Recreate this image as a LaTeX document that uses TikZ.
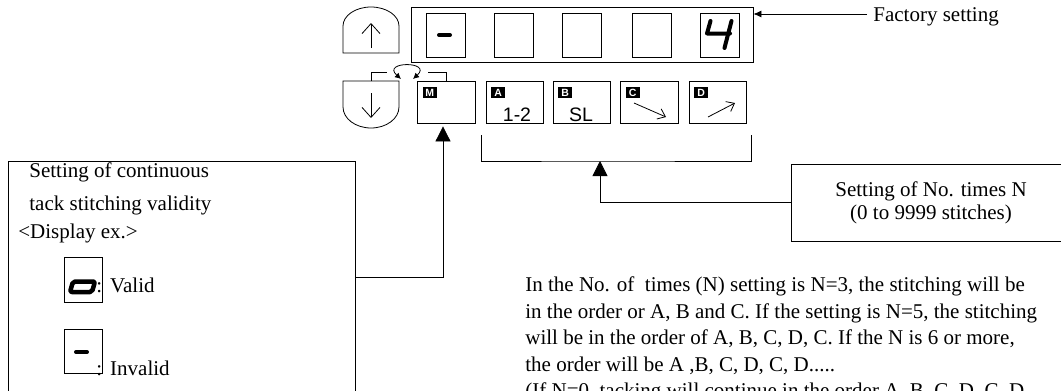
\documentclass[tikz,border=0pt]{standalone}
\usepackage{fontspec}
\setmainfont{Liberation Serif}
\setsansfont{Liberation Sans}
\usetikzlibrary{arrows.meta}

\begin{document}
\begin{tikzpicture}[x=1pt,y=-1pt,font=\fontsize{21}{23}\selectfont]
		\path[use as bounding box] (0,0) rectangle (1061,391);
		\clip (0,0) rectangle (1061,391);
		\tikzstyle{every path}=[line width=0.8pt]
		\tikzstyle{box}=[draw,inner sep=0pt]
		\tikzstyle{digit}=[box,minimum width=39pt,minimum height=44pt]
		\tikzstyle{key}=[box,minimum width=57.5pt,minimum height=42pt]
		\tikzstyle{tag}=[fill=black,text=white,inner sep=0pt,minimum width=14pt,minimum height=11pt,anchor=north west,font=\sffamily\bfseries\fontsize{10.5}{10.5}\selectfont]
		\tikzstyle{seg}=[line width=4pt,line cap=round,line join=round]
		\tikzstyle{bigtip}=[-{Triangle[length=15pt,width=15pt]}]
		\tikzstyle{barb}=[-{Straight Barb[length=10pt,width=18pt]}]
		\tikzstyle{smallbarb}=[-{Straight Barb[length=7pt,width=11pt]}]
		\tikzstyle{txt}=[anchor=base west,inner sep=0pt]

		%% Display
		\draw (582,34.5) node[box,minimum width=342pt,minimum height=55pt] (disp) {};
		\foreach \i/\x in {1/446,2/514,3/582,4/651.5,5/719.5}
			\draw (\x,35) node[digit] (d\i) {};
		\draw[seg] (439,35) -- (450,35);
		\draw[seg] (710.5,21) -- (707,33.5) -- (730,33.5);
		\draw[seg] (731.5,21) -- (724.5,48);
		\draw (873,21) node[txt] (factory) {Factory setting};
		\coordinate (fs) at ([shift={(-6pt,7pt)}]factory.base west);
		\draw[-{Latex[length=8pt,width=7pt]}] (fs) -- (fs -| disp.east);

		%% Up and down keys
		\draw (343,53) -- (343,26) arc[start angle=180,end angle=0,x radius=28pt,y radius=19pt] -- (399,53) -- cycle;
		\draw[barb] (371,48) -- (371,23);
		\draw (343,81) -- (399,81) -- (399,107) arc[start angle=0,end angle=-180,x radius=28pt,y radius=21pt] -- cycle;
		\draw[barb] (371,93) -- (371,118);
		\coordinate (dntop) at (371,81);

		%% Mode keys
		\foreach \k/\x in {M/446.5,A/515,B/582,C/649.5,D/718}{
			\draw (\x,102) node[key] (key\k) {};
			\node[tag] (tag\k) at ([shift={(5pt,-6pt)}]key\k.north west) {\k};
		}
		\draw (517,121) node[anchor=base,inner sep=0pt,font=\sffamily\fontsize{19.5}{20}\selectfont] (onetwo) {1-2};
		\draw (581,121) node[anchor=base,inner sep=0pt,font=\sffamily\fontsize{19.5}{20}\selectfont] (sl) {SL};
		\draw[smallbarb] (634,103) -- (666,117);
		\draw[smallbarb] (708,117) -- (735,103);
		\draw (dntop) |- (387,72);
		\draw (keyM.north) |- (428,72);
		\draw[{Latex[length=6pt,width=6pt]}-{Latex[length=6pt,width=6pt]}] (401,79) .. controls (381,61) and (433,61) .. (413,79);

		%% Setting of number of times
		\coordinate (brl) at (481,135);
		\coordinate (brr) at (751,135);
		\coordinate (brmid) at (600,161);
		\draw (brl) |- (brmid) -| (brr);
		\draw (931,202.5) node[box,minimum width=280pt,minimum height=77pt,align=center] (nbox) {Setting of No. times N\\(0 to 9999 stitches)};
		\draw[bigtip] (nbox.west) -| (brmid);

		%% Continuous tack stitching
		\draw (8,161) node[box,anchor=north west,minimum width=347pt,minimum height=232pt] (valbox) {};
		\draw (29,177) node[txt] (vt1) {Setting of continuous};
		\draw (29,210) node[txt] (vt2) {tack stitching validity};
		\draw (18,238) node[txt] (vt3) {<Display ex.>};
		\draw (83,279.5) node[box,minimum width=38pt,minimum height=45pt] (validbox) {};
		\draw[line width=4.5pt,line join=round,rounded corners=2pt] (73,281.5) -- (95,281.5) -- (92,292) -- (70,292) -- cycle;
		\draw (96,292) node[txt] (validtxt) {:\hskip 8pt Valid};
		\draw (83,351) node[box,minimum width=38pt,minimum height=44pt] (invalidbox) {};
		\draw[seg] (76,352) -- (87,352);
		\draw (96,375) node[txt] (invalidtxt) {:\hskip 8pt Invalid};
		\draw[bigtip,shorten >=3pt] (valbox.east) -| ([xshift=-3.5pt]keyM.south);

		%% Note
		\draw (525,276.5) node[anchor=north west,inner sep=0pt,align=left,font=\fontsize{21}{26.5}\selectfont] (note) {In the No. of\ \ times (N) setting is N=3, the stitching will be\\in the order or A, B and C. If the setting is N=5, the stitching\\will be in the order of A, B, C, D, C. If the N is 6 or more,\\the order will be A ,B, C, D, C, D.....\\(If N=0, tacking will continue in the order A, B, C, D, C, D};
	\end{tikzpicture}
\end{document}
